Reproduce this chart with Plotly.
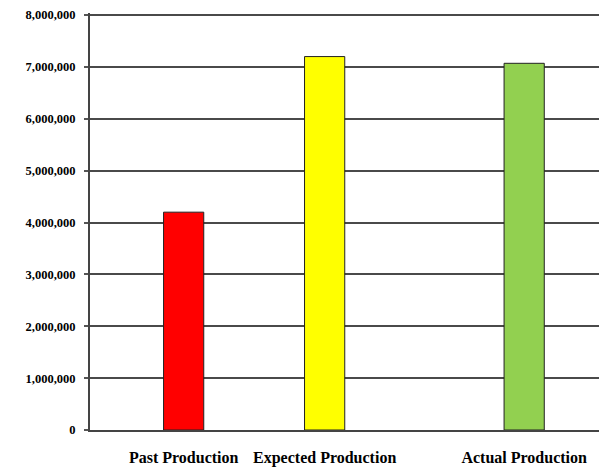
import plotly.graph_objects as go

# Production totals
categories = ["Past Production", "Expected Production", "Actual Production"]
production = [4200000, 7200000, 7070000]
bar_colors = ["#FF0000", "#FFFF00", "#92D050"]
y_ticks = [0, 1000000, 2000000, 3000000, 4000000, 5000000, 6000000, 7000000, 8000000]

# horizontal placement of the three bars on a 0..1 axis
bar_pos = [0.184, 0.461, 0.853]

fig = go.Figure(
    go.Bar(
        x=bar_pos,
        y=production,
        width=0.079,
        marker=dict(color=bar_colors, line=dict(color="#222222", width=1)),
        hoverinfo="skip",
    )
)

serif = "Liberation Serif, Times New Roman, serif"

fig.update_layout(
    width=600,
    height=467,
    margin=dict(l=90, r=1, t=13, b=37),
    paper_bgcolor="white",
    plot_bgcolor="white",
    showlegend=False,
    font=dict(family=serif, color="black"),
)

fig.update_xaxes(
    range=[0, 1],
    tickmode="array",
    tickvals=bar_pos,
    ticktext=categories,
    ticks="",
    ticklabelstandoff=12,
    tickfont=dict(family=serif, size=16, weight="bold", color="black"),
    showgrid=False,
    zeroline=False,
    showline=True,
    linecolor="#444444",
    linewidth=2,
)

fig.update_yaxes(
    range=[0, 8040000],
    tickmode="array",
    tickvals=y_ticks,
    tickformat=",",
    ticks="outside",
    ticklen=4,
    tickcolor="#555555",
    tickwidth=2,
    ticklabelstandoff=6,
    tickfont=dict(family=serif, size=12.5, weight="bold", color="black"),
    showgrid=True,
    gridcolor="#4a4a4a",
    gridwidth=2,
    zeroline=False,
    showline=True,
    linecolor="#444444",
    linewidth=2,
)

fig.write_html("out.html")
